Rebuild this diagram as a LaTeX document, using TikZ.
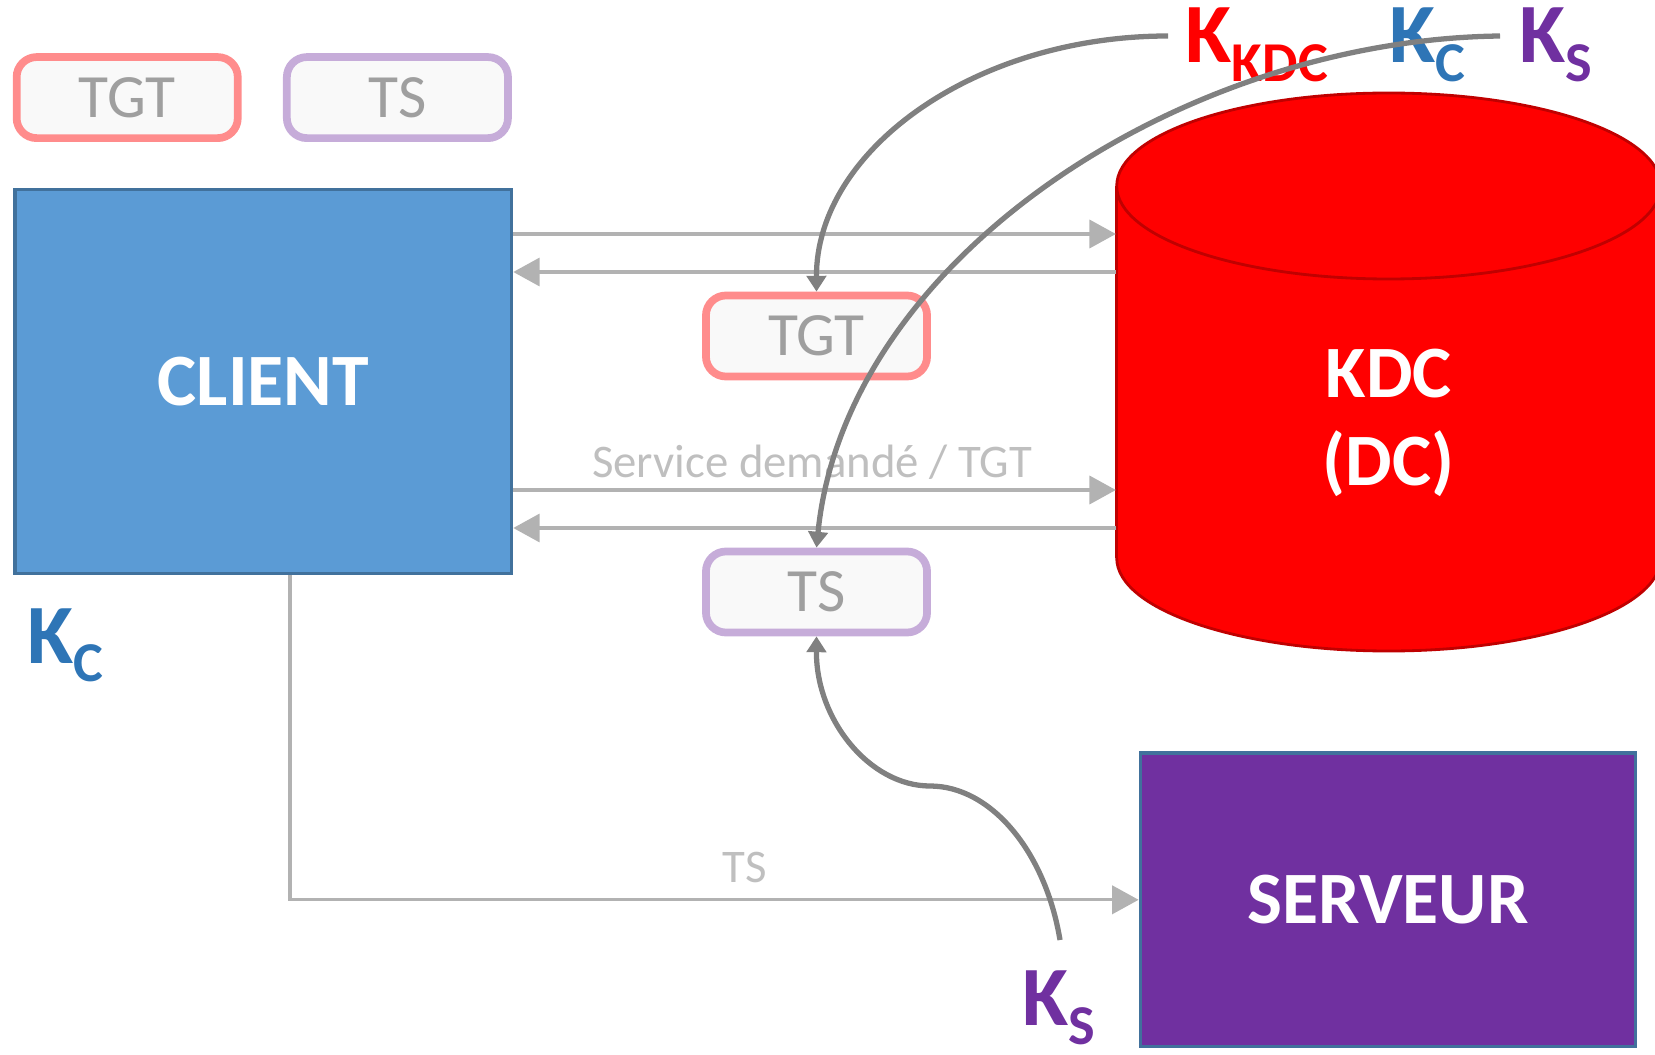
\documentclass[tikz,border=0pt]{standalone}
\usepackage{fontspec}
\setmainfont{Carlito}
\usetikzlibrary{arrows.meta}

\definecolor{clientblue}{HTML}{5B9BD5}
\definecolor{edgeblue}{HTML}{41719C}
\definecolor{keyblue}{HTML}{2E75B6}
\definecolor{kdcred}{HTML}{FF0000}
\definecolor{kdcedge}{HTML}{C00000}
\definecolor{srvpurple}{HTML}{7030A0}
\definecolor{curvegray}{HTML}{808080}

\newcommand{\keysub}[1]{K\raisebox{-5.4pt}{\fontsize{16}{16}\selectfont #1}}

\begin{document}
\begin{tikzpicture}[x=0.01cm, y=-0.01cm,
    box/.style={draw=edgeblue, line width=1pt, text=white, font=\fontsize{21}{25}\bfseries\selectfont, align=center},
    ticket/.style={rounded corners=0.2cm, fill=gray!5, line width=2.2pt, text=gray!75, font=\fontsize{17.5}{20}\selectfont, minimum width=2.21cm, minimum height=0.81cm},
    msg/.style={gray!60, line width=0.9pt, -{Triangle[length=7.5pt,width=8pt]}},
    keyarrow/.style={curvegray, line width=1.5pt, -{Triangle[length=4.5pt,width=5.5pt]}},
    key/.style={font=\fontsize{24}{28}\bfseries\selectfont, inner sep=0pt, anchor=base west},
    note/.style={text=gray!50, font=\fontsize{13.3}{16}\selectfont, inner sep=0pt, anchor=base}]
    \useasboundingbox (0,0) rectangle (1655,1055);

    % KDC cylinder
    \filldraw[fill=kdcred, draw=kdcedge, line width=0.8pt] (1388.7,558) ellipse [x radius=272, y radius=93];
    \fill[kdcred] (1116.7,186) rectangle (1660.7,558);
    \draw[kdcedge, line width=0.8pt] (1116.7,186) -- (1116.7,558) (1660.7,186) -- (1660.7,558);
    \filldraw[fill=kdcred, draw=kdcedge, line width=0.8pt] (1388.7,186) ellipse [x radius=272, y radius=93];

    % Nodes
    \node[box, fill=clientblue, minimum width=4.96cm, minimum height=3.84cm] (client) at (263.4,381.6) {CLIENT};
    \node[box, fill=srvpurple, minimum width=4.95cm, minimum height=2.93cm] (server) at (1388,899.8) {SERVEUR};
    \node[text=white, font=\fontsize{21}{25}\bfseries\selectfont, align=center, minimum width=5.44cm] (kdc) at (1388.7,423) {KDC\\(DC)};

    \node[ticket, draw=red!45] (tgtkey) at (127.2,97.6) {TGT};
    \node[ticket, draw=srvpurple!40] (tskey) at (397.4,97.6) {TS};
    \node[ticket, draw=red!45] (tgtmid) at (816.5,336) {TGT};
    \node[ticket, draw=srvpurple!40] (tsmid) at (816.5,592) {TS};

    \node[key, text=kdcred] (kkdc) at (1185,63) {\keysub{KDC}};
    \node[key, text=keyblue] (kc) at (1389,63) {\keysub{C}};
    \node[key, text=srvpurple] (ks) at (1519,63) {\keysub{S}};
    \node[key, text=keyblue] (kclient) at (27,663) {\keysub{C}};
    \node[key, text=srvpurple] (kserver) at (1022,1025) {\keysub{S}};

    \coordinate (kkdcin) at (1168,36);
    \coordinate (kcin) at (1500,36);
    \coordinate (ksin) at (1060,940);

    % Connections
    \draw[msg] (client.east |- 0,234) -- (kdc.west |- 0,234);
    \draw[msg] (kdc.west |- 0,272) -- (client.east |- 0,272);
    \draw[msg] (client.east |- 0,490) -- (kdc.west |- 0,490);
    \draw[msg] (kdc.west |- 0,528) -- (client.east |- 0,528);
    \draw[msg] (client.south -| 290,0) |- (server.west);

    \node[note] (svc) at (812,477) {Service demandé / TGT};
    \node[note] (tslbl) at (745,882) {TS};

    \draw[keyarrow] (kkdcin) .. controls (974,36) and (816,151) .. (tgtmid.north);
    \draw[keyarrow] (kcin) .. controls (1180,40) and (845,260) .. (tsmid.north);
    \draw[keyarrow] (ksin) .. controls (1045,850) and (990,786) .. (930,786)
        .. controls (870,786) and (816,720) .. (tsmid.south);
\end{tikzpicture}
\end{document}
